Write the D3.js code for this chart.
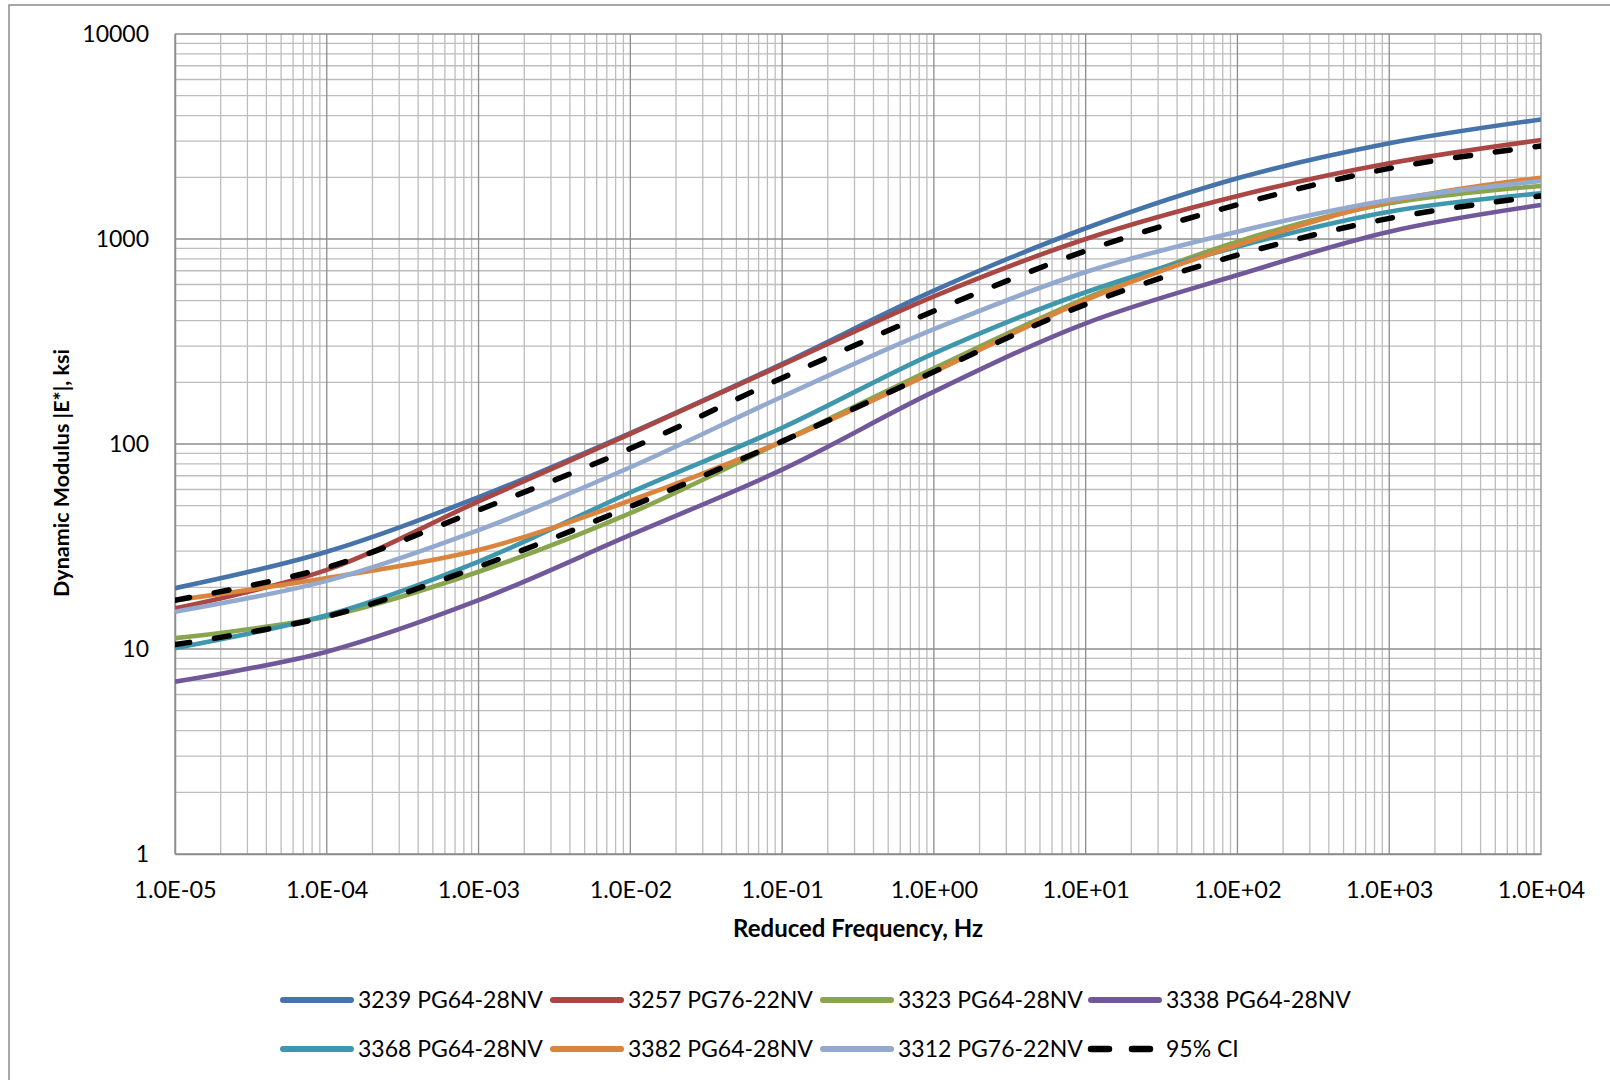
<!DOCTYPE html>
<html>
<head>
<meta charset="utf-8">
<script src="https://cdn.jsdelivr.net/npm/d3@7"></script>
<style>
  html, body { margin: 0; padding: 0; background: #fff; }
  svg { display: block; font-family: Lato, "Open Sans", sans-serif; }
</style>
</head>
<body>
<svg id="chart" width="1610" height="1080"></svg>
<script>
// Reduced frequency (Hz), one point per decade
const frequency = [1e-5, 1e-4, 1e-3, 1e-2, 1e-1, 1e0, 1e1, 1e2, 1e3, 1e4];

// Dynamic modulus |E*| (ksi) for each mix
const mix3239 = [19.8, 29.8, 55, 113, 246, 560, 1128, 1977, 2930, 3830];
const mix3257 = [15.8, 24.3, 52.5, 112, 243, 525, 1000, 1620, 2340, 3040];
const mix3323 = [11.3, 14.4, 23.8, 46, 103, 234, 514, 971, 1493, 1814];
const mix3338 = [6.93, 9.7, 17.3, 36, 75, 180, 388, 667, 1086, 1465];
const mix3368 = [10.1, 14.6, 26.7, 58, 120, 277, 550, 917, 1359, 1670];
const mix3382 = [17.3, 22.2, 30.4, 53, 103, 225, 504, 935, 1521, 1991];
const mix3312 = [15.2, 21.5, 38, 77, 170, 363, 690, 1086, 1549, 1919];
const ciUpper = [17.3, 25, 47.6, 95, 210, 445, 875, 1470, 2210, 2843];
const ciLower = [10.5, 14.4, 25.2, 49.5, 103, 225, 480, 835, 1261, 1622];

const xTickLabels = ["1.0E-05", "1.0E-04", "1.0E-03", "1.0E-02", "1.0E-01",
                     "1.0E+00", "1.0E+01", "1.0E+02", "1.0E+03", "1.0E+04"];
const yTickValues = [1, 10, 100, 1000, 10000];
const yTickLabels = ["1", "10", "100", "1000", "10000"];

const seriesNames = ["3239 PG64-28NV", "3257 PG76-22NV", "3323 PG64-28NV", "3338 PG64-28NV",
                     "3368 PG64-28NV", "3382 PG64-28NV", "3312 PG76-22NV", "95% CI"];
const seriesColors = ["#4673AA", "#AA4643", "#89A54E", "#71589A",
                      "#3F97AE", "#DB843D", "#93A9CF", "#000000"];

const series = [
  { name: seriesNames[0], values: mix3239, color: seriesColors[0], dashed: false },
  { name: seriesNames[1], values: mix3257, color: seriesColors[1], dashed: false },
  { name: seriesNames[2], values: mix3323, color: seriesColors[2], dashed: false },
  { name: seriesNames[3], values: mix3338, color: seriesColors[3], dashed: false },
  { name: seriesNames[4], values: mix3368, color: seriesColors[4], dashed: false },
  { name: seriesNames[5], values: mix3382, color: seriesColors[5], dashed: false },
  { name: seriesNames[6], values: mix3312, color: seriesColors[6], dashed: false },
  { name: seriesNames[7], values: ciUpper, color: seriesColors[7], dashed: true },
  { name: seriesNames[7], values: ciLower, color: seriesColors[7], dashed: true }
];

const svg = d3.select("#chart");
const plot = { left: 175, right: 1541, top: 34, bottom: 854 };

const x = d3.scaleLog().domain([1e-5, 1e4]).range([plot.left, plot.right]);
const y = d3.scaleLog().domain([1, 10000]).range([plot.bottom, plot.top]);

// Outer chart frame
svg.append("rect")
  .attr("x", 9).attr("y", 5).attr("width", 1700).attr("height", 1200)
  .attr("fill", "none").attr("stroke", "#8a8a8a").attr("stroke-width", 1.5);

// Grid: minor lines at 2..9 of every decade, major at each power of ten
function gridValues(domain) {
  const out = [];
  const lo = Math.round(Math.log10(domain[0])), hi = Math.round(Math.log10(domain[1]));
  for (let d = lo; d <= hi; d++) {
    for (let k = 1; k <= 9; k++) {
      const v = k * Math.pow(10, d);
      if (v <= domain[1] * 1.0000001) out.push({ v, major: k === 1 });
    }
  }
  return out;
}
const grid = svg.append("g");
const xGrid = gridValues(x.domain());
const yGrid = gridValues(y.domain());
grid.selectAll("line.vminor").data(xGrid.filter(d => !d.major)).join("line")
  .attr("x1", d => x(d.v)).attr("x2", d => x(d.v))
  .attr("y1", plot.top).attr("y2", plot.bottom)
  .attr("stroke", "#bdbdbd").attr("stroke-width", 1.3);
grid.selectAll("line.hminor").data(yGrid.filter(d => !d.major)).join("line")
  .attr("x1", plot.left).attr("x2", plot.right)
  .attr("y1", d => y(d.v)).attr("y2", d => y(d.v))
  .attr("stroke", "#bdbdbd").attr("stroke-width", 1.3);
grid.selectAll("line.vmajor").data(xGrid.filter(d => d.major)).join("line")
  .attr("x1", d => x(d.v)).attr("x2", d => x(d.v))
  .attr("y1", plot.top).attr("y2", plot.bottom)
  .attr("stroke", "#8c8c8c").attr("stroke-width", 1.3);
grid.selectAll("line.hmajor").data(yGrid.filter(d => d.major)).join("line")
  .attr("x1", plot.left).attr("x2", plot.right)
  .attr("y1", d => y(d.v)).attr("y2", d => y(d.v))
  .attr("stroke", "#8c8c8c").attr("stroke-width", 1.3);

// Axes (labels only; grid draws the lines)
const xAxis = d3.axisBottom(x).tickValues(frequency).tickSize(0).tickPadding(0)
  .tickFormat((d, i) => xTickLabels[i]);
const gx = svg.append("g").attr("transform", `translate(0,${plot.bottom})`).call(xAxis);
gx.select(".domain").attr("stroke", "#8c8c8c").attr("stroke-width", 1.5);
gx.selectAll("text").attr("dy", null).attr("y", 44)
  .attr("font-size", 23.5).attr("fill", "#000").attr("font-family", "Lato, sans-serif");

const yAxis = d3.axisLeft(y).tickValues(yTickValues).tickSize(0).tickPadding(26)
  .tickFormat((d, i) => yTickLabels[i]);
const gy = svg.append("g").attr("transform", `translate(${plot.left},0)`).call(yAxis);
gy.select(".domain").attr("stroke", "#8c8c8c").attr("stroke-width", 1.5);
gy.selectAll("text").attr("font-size", 23).attr("fill", "#000")
  .attr("font-family", "Lato, sans-serif");

// Axis titles
svg.append("text")
  .attr("x", (plot.left + plot.right) / 2).attr("y", 937)
  .attr("text-anchor", "middle").attr("font-weight", "bold").attr("font-size", 24)
  .text("Reduced Frequency, Hz");
svg.append("text")
  .attr("transform", "translate(69,473) rotate(-90)")
  .attr("text-anchor", "middle").attr("font-weight", "bold").attr("font-size", 21.5)
  .text("Dynamic Modulus |E*|, ksi");

// Curves
svg.append("clipPath").attr("id", "plotClip").append("rect")
  .attr("x", plot.left).attr("y", plot.top)
  .attr("width", plot.right - plot.left).attr("height", plot.bottom - plot.top);

const line = d3.line()
  .x((d, i) => x(frequency[i]))
  .y(d => y(d))
  .curve(d3.curveCatmullRom.alpha(0.5));

svg.append("g").attr("clip-path", "url(#plotClip)")
  .selectAll("path").data(series).join("path")
  .attr("d", d => line(d.values))
  .attr("fill", "none")
  .attr("stroke", d => d.color)
  .attr("stroke-width", d => d.dashed ? 5.5 : 4.6)
  .attr("stroke-linecap", d => d.dashed ? "round" : "butt")
  .attr("stroke-dasharray", d => d.dashed ? "15 25" : null);

// Legend: two rows of four entries
const legendItems = seriesNames.map((name, i) => ({ name, color: seriesColors[i], dashed: name === "95% CI" }));
const legend = svg.append("g");
const colX = [281, 551, 821, 1089];
const rowY = [1000, 1049];
legendItems.forEach((item, i) => {
  const gx0 = colX[i % 4], gy0 = rowY[Math.floor(i / 4)];
  const g = legend.append("g").attr("transform", `translate(${gx0},${gy0})`);
  if (item.dashed) {
    g.append("line").attr("x1", 2).attr("x2", 70).attr("y1", 0).attr("y2", 0)
      .attr("stroke", item.color).attr("stroke-width", 6.5)
      .attr("stroke-linecap", "round").attr("stroke-dasharray", "18 23");
  } else {
    g.append("line").attr("x1", 2).attr("x2", 70).attr("y1", 0).attr("y2", 0)
      .attr("stroke", item.color).attr("stroke-width", 6)
      .attr("stroke-linecap", "round");
  }
  g.append("text").attr("x", 77).attr("y", 0).attr("dy", "0.35em")
    .attr("font-size", 23).attr("fill", "#000").text(item.name);
});
</script>
</body>
</html>
